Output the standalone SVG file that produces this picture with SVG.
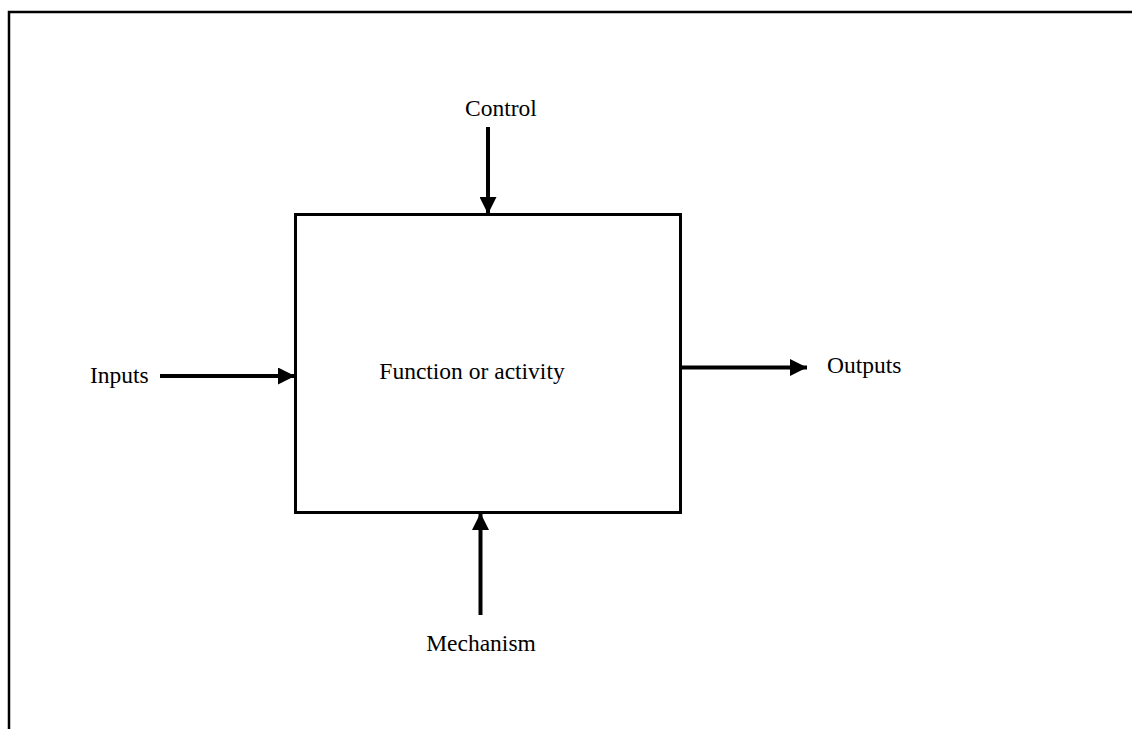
<svg xmlns="http://www.w3.org/2000/svg" width="1132" height="729" viewBox="0 0 1132 729">
<defs>
<marker id="ah" markerUnits="userSpaceOnUse" markerWidth="17" markerHeight="17" refX="17" refY="8.5" orient="auto">
<path d="M0,0 L17,8.5 L0,17 Z" fill="#000"/>
</marker>
<style>
text{font-family:"Liberation Serif","Times New Roman",serif;font-size:23.5px;fill:#000}
.c{stroke:#000;stroke-width:4;fill:none}
</style>
</defs>
<rect width="1132" height="729" fill="#fff"/>
<path d="M9,729 V12 H1132" stroke="#000" stroke-width="2.5" fill="none"/>
<g id="function">
<rect x="295.5" y="214.5" width="385" height="298" fill="none" stroke="#000" stroke-width="3"/>
<text x="472" y="379" text-anchor="middle">Function or activity</text>
</g>
<g id="control"><text x="501" y="116" text-anchor="middle">Control</text></g>
<g id="inputs"><text x="90" y="383">Inputs</text></g>
<g id="outputs"><text x="827" y="373">Outputs</text></g>
<g id="mechanism"><text x="481" y="651" text-anchor="middle">Mechanism</text></g>
<g id="connectors">
<line class="c" x1="488" y1="127" x2="488" y2="214" marker-end="url(#ah)"/>
<line class="c" x1="160" y1="376" x2="295" y2="376" marker-end="url(#ah)"/>
<line class="c" x1="682" y1="367.5" x2="807" y2="367.5" marker-end="url(#ah)"/>
<line class="c" x1="480.5" y1="615" x2="480.5" y2="513" marker-end="url(#ah)"/>
</g>
</svg>
